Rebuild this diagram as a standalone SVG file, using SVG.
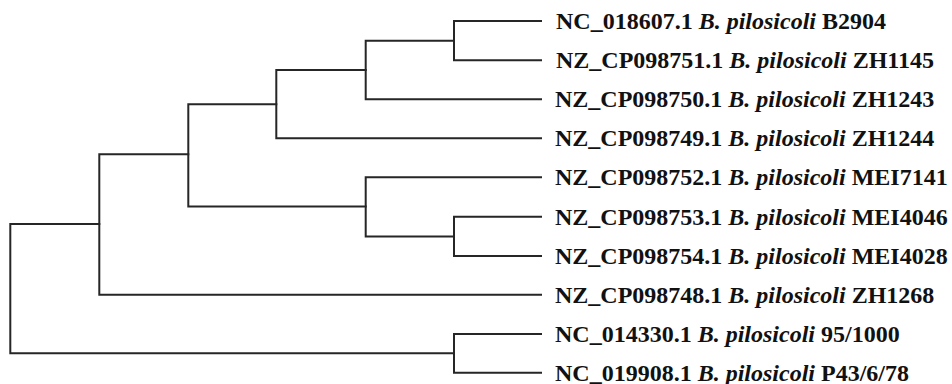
<svg xmlns="http://www.w3.org/2000/svg" width="952" height="384" viewBox="0 0 952 384">
  <style>
    .br { fill: none; stroke: #262626; stroke-width: 2; stroke-linecap: square; }
    .lab { font-family: "Liberation Serif", "Times New Roman", serif; font-size: 24px; font-weight: bold; fill: #111; }
    .sp { font-style: italic; }
  </style>
  <rect width="952" height="384" fill="#fff"/>
  <!-- tree branches (rectangular cladogram) -->
  <g id="connectors">
    <!-- clade A: L1, L2 -->
    <path class="br" d="M541 21 H454 V60.3 H541"/>
    <!-- clade B: A + L3 -->
    <path class="br" d="M454 40.7 H365.7 V99.3 H541"/>
    <!-- clade C: B + L4 -->
    <path class="br" d="M365.7 70 H276.3 V138.3 H541"/>
    <!-- clade D: L6, L7 -->
    <path class="br" d="M541 216.7 H454 V256 H541"/>
    <!-- clade E: L5 + D -->
    <path class="br" d="M541 177.3 H365.7 V236.4 H454"/>
    <!-- clade F: C + E -->
    <path class="br" d="M276.3 104.2 H188.3 V206.5 H365.7"/>
    <!-- clade G: F + L8 -->
    <path class="br" d="M188.3 154.3 H99.3 V294.7 H541"/>
    <!-- clade H: L9, L10 -->
    <path class="br" d="M541 334 H454 V372.7 H541"/>
    <!-- root -->
    <path class="br" d="M99.3 224 H10.3 V353.3 H454"/>
  </g>
  <g id="leaf1"><text class="lab" x="556" y="29">NC_018607.1 <tspan class="sp">B. pilosicoli</tspan> B2904</text></g>
  <g id="leaf2"><text class="lab" x="556" y="68">NZ_CP098751.1 <tspan class="sp">B. pilosicoli</tspan> ZH1145</text></g>
  <g id="leaf3"><text class="lab" x="555" y="107">NZ_CP098750.1 <tspan class="sp">B. pilosicoli</tspan> ZH1243</text></g>
  <g id="leaf4"><text class="lab" x="555" y="146">NZ_CP098749.1 <tspan class="sp">B. pilosicoli</tspan> ZH1244</text></g>
  <g id="leaf5"><text class="lab" x="555" y="185">NZ_CP098752.1 <tspan class="sp">B. pilosicoli</tspan> MEI7141</text></g>
  <g id="leaf6"><text class="lab" x="555" y="224.5">NZ_CP098753.1 <tspan class="sp">B. pilosicoli</tspan> MEI4046</text></g>
  <g id="leaf7"><text class="lab" x="555" y="264">NZ_CP098754.1 <tspan class="sp">B. pilosicoli</tspan> MEI4028</text></g>
  <g id="leaf8"><text class="lab" x="555" y="302.5">NZ_CP098748.1 <tspan class="sp">B. pilosicoli</tspan> ZH1268</text></g>
  <g id="leaf9"><text class="lab" x="555" y="342">NC_014330.1 <tspan class="sp">B. pilosicoli</tspan> 95/1000</text></g>
  <g id="leaf10"><text class="lab" x="555" y="380.5">NC_019908.1 <tspan class="sp">B. pilosicoli</tspan> P43/6/78</text></g>
</svg>
